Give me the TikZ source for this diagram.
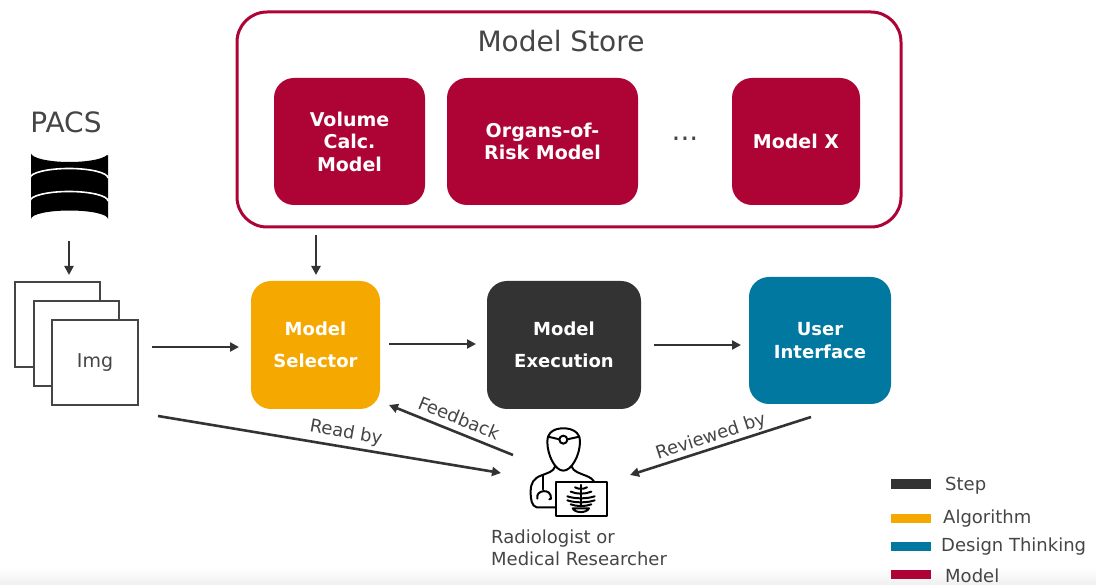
\documentclass[tikz,border=0pt]{standalone}
\usepackage{fontspec}
\setmainfont{DejaVu Sans}
\usetikzlibrary{arrows.meta}
\definecolor{crim}{HTML}{AE0335}
\definecolor{amber}{HTML}{F5A800}
\definecolor{darkbox}{HTML}{333333}
\definecolor{teal2}{HTML}{00789F}
\definecolor{txt}{HTML}{454545}
\newcommand{\fs}[2]{\fontsize{#1pt}{#2pt}\selectfont}
\tikzset{
  x=1pt,y=-1pt,
  boxa/.style={rounded corners=20pt,inner sep=0pt,align=center,text=white,font=\bfseries\fs{19}{22.5}},
  modelbox/.style={boxa,fill=crim},
  flow/.style={draw=darkbox,line width=2.6pt,-{Triangle[length=9pt,width=9pt]},shorten >=0pt},
  lab/.style={inner sep=0pt,text=txt,font=\fs{18}{22}},
  pagebox/.style={draw=txt,line width=2.4pt,fill=white,inner sep=0pt,text=txt,font=\fs{19}{22}},
  legbar/.style={inner sep=0pt,minimum width=40pt},
  icon/.style={draw=black,line width=2pt,line cap=round,line join=round},
}
\begin{document}
\begin{tikzpicture}
\useasboundingbox (0,0) rectangle (1096,585);
\shade[top color=white,bottom color=black!6] (0,568) rectangle (1096,585);
% store
\node[draw=crim,line width=3pt,fill=white,rounded corners=30pt,minimum width=664pt,minimum height=215pt,inner sep=0pt] (store) at (569,119.5) {};
\node[lab,font=\fs{28}{30}] (storet) at (561,41) {Model Store};
\node[modelbox,minimum width=151pt,minimum height=127pt] (vol) at (349.5,141.5) {Volume\\Calc.\\Model};
\node[modelbox,minimum width=191pt,minimum height=127pt] (org) at (542.5,141.5) {Organs-of-\\Risk Model};
\node[lab,font=\fs{28}{30}] (dots) at (685,139) {...};
\node[modelbox,minimum width=128pt,minimum height=127pt] (mx) at (796,141.5) {Model X};
% process
\node[boxa,fill=amber,font=\bfseries\fs{18}{32},minimum width=129pt,minimum height=128pt] (sel) at (315.5,345) {Model\\Selector};
\node[boxa,fill=darkbox,font=\bfseries\fs{18}{32},minimum width=154pt,minimum height=128pt] (exec) at (564,345) {Model\\Execution};
\node[boxa,fill=teal2,font=\bfseries\fs{18}{23},minimum width=142pt,minimum height=127pt] (ui) at (820,340.5) {User\\Interface};
% pacs
\node[lab,font=\fs{28}{30}] (pacs) at (66,122) {PACS};
\fill[black] (31,153) -- (31,219) arc[start angle=180,end angle=0,x radius=38.5,y radius=-8.5] -- (108,153) arc[start angle=0,end angle=180,x radius=38.5,y radius=9] -- cycle;
\draw[white,line width=1.6pt] (30,155) arc[start angle=180,end angle=0,x radius=39,y radius=-9.5];
\draw[white,line width=1.6pt] (30,178) arc[start angle=180,end angle=0,x radius=39,y radius=-9.5];
\draw[white,line width=1.6pt] (30,201) arc[start angle=180,end angle=0,x radius=39,y radius=-9.5];
\coordinate (dbout) at (69,241);
% images
\node[pagebox,minimum width=85pt,minimum height=85pt] (img1) at (57.5,324.5) {};
\node[pagebox,minimum width=85pt,minimum height=85pt] (img2) at (76.5,343.5) {};
\node[pagebox,minimum width=86pt,minimum height=85pt] (img3) at (95,362.5) {Img};
% connectors
\coordinate (imgtop) at (69,275);
\draw[flow] (dbout) -- (imgtop);
\coordinate (sttop) at (316,235);
\coordinate (selin) at (316,275);
\draw[flow] (sttop) -- (selin);
\coordinate (a1) at (152,347); \coordinate (a2) at (239,347);
\draw[flow] (a1) -- (a2);
\coordinate (b1) at (389,344); \coordinate (b2) at (476,344);
\draw[flow] (b1) -- (b2);
\coordinate (c1) at (654,345); \coordinate (c2) at (741,345);
\draw[flow] (c1) -- (c2);
\coordinate (d1) at (158,416); \coordinate (d2) at (501,473);
\draw[flow] (d1) -- (d2);
\coordinate (e1) at (513,455); \coordinate (e2) at (389,405);
\draw[flow] (e1) -- (e2);
\coordinate (f1) at (811,417); \coordinate (f2) at (630,475);
\draw[flow] (f1) -- (f2);
\node[lab,rotate=-10] (rb) at (346,433) {Read by};
\node[lab,rotate=-22] (fb) at (459,418) {Feedback};
\node[lab,rotate=18] (rv) at (711,437) {Reviewed by};
% radiologist icon
\begin{scope}[shift={(480,400)},x=0.3333pt,y=-0.3333pt]
\draw[icon] (202,125) .. controls (202,95) and (225,85) .. (250,85) .. controls (275,85) and (300,95) .. (300,125) .. controls (300,165) and (275,212) .. (250,212) .. controls (225,212) and (202,165) .. (202,125) -- cycle;
\draw[icon] (204,110) -- (238,118);
\draw[icon] (262,118) -- (298,110);
\draw[icon] (250,119) circle[radius=12];
\draw[icon] (225,200) .. controls (220,215) and (205,218) .. (185,226) .. controls (160,235) and (152,250) .. (152,275) .. controls (152,300) and (155,318) .. (170,322) -- (225,322);
\draw[icon] (275,200) .. controls (280,215) and (300,220) .. (320,228) .. controls (330,232) and (338,238) .. (342,244);
\draw[icon] (190,226) -- (190,268);
\draw[icon] (172,296) .. controls (165,270) and (215,262) .. (213,296);
\draw[icon] (213,296) -- (208,298);
\draw[icon,line width=2.2pt] (227,245) rectangle (381,347);
\draw[icon] (303,255) -- (303,315);
\draw[icon] (285,262) .. controls (295,268) and (311,268) .. (321,262);
\draw[icon] (272,275) .. controls (290,283) and (316,283) .. (334,275);
\draw[icon] (262,289) .. controls (285,297) and (321,297) .. (344,289);
\draw[icon] (262,301) .. controls (285,309) and (321,309) .. (344,301);
\draw[icon] (272,313) .. controls (290,320) and (316,320) .. (334,313);
\draw[icon] (278,325) .. controls (285,340) and (320,340) .. (327,325) -- cycle;
\end{scope}
\node[lab,align=left,anchor=north west] (rad) at (491,529.5) {Radiologist or\\Medical Researcher};
% legend
\node[legbar,fill=darkbox,minimum height=10pt] (l1) at (911,484) {};
\node[legbar,fill=amber,minimum height=9pt] (l2) at (911,518) {};
\node[legbar,fill=teal2,minimum height=9pt] (l3) at (911,546) {};
\node[legbar,fill=crim,minimum height=9pt] (l4) at (911,574) {};
\node[lab,anchor=west] (t1) at (945,486) {Step};
\node[lab,anchor=west] (t2) at (943,518.5) {Algorithm};
\node[lab,anchor=west] (t3) at (941,547) {Design Thinking};
\node[lab,anchor=west] (t4) at (945,576) {Model};
\end{tikzpicture}
\end{document}
